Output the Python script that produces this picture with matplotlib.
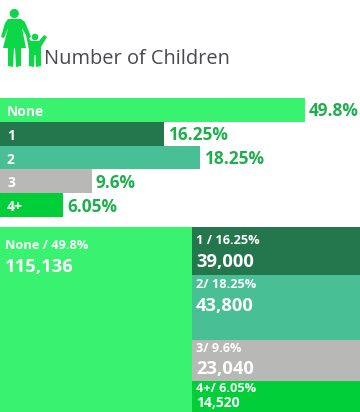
import matplotlib
matplotlib.use("Agg")
import matplotlib.pyplot as plt
from matplotlib.patches import Circle, Polygon

categories = ["None", "1", "2", "3", "4+"]
percent_labels = ["49.8%", "16.25%", "18.25%", "9.6%", "6.05%"]
bar_lengths = [305, 164, 200, 92, 63]  # read off the picture, not proportional to the percents
tile_titles = ["None / 49.8%", "1 / 16.25%", "2/ 18.25%", "3/ 9.6%", "4+/ 6.05%"]
tile_values = ["115,136", "39,000", "43,800", "23,040", "14,520"]
tile_heights = [48, 65, 41, 31]  # right column
colors = ["#39F270", "#24774D", "#48BF95", "#B8B8B6", "#00CF3A"]

plt.rcParams["font.family"] = ["Open Sans", "DejaVu Sans"]

fig = plt.figure(figsize=(3.6, 4.12), dpi=100)
ax = fig.add_axes([0, 0, 1, 1])
ax.set_xlim(0, 360)
ax.set_ylim(412, 0)
ax.axis("off")

# icon
green = "#0CD746"
ax.add_patch(Circle((14.3, 13.5), 4.6, color=green, lw=0))
ax.add_patch(Polygon([(8, 19), (21, 19), (25, 22), (31, 37), (28, 39), (22, 28), (26, 48),
                      (21, 48), (21, 66), (16, 67), (15, 48), (14, 48), (13, 67), (8, 66),
                      (8, 48), (3, 48), (8, 28), (4, 38), (1, 37), (5, 23)], color=green, lw=0))
ax.add_patch(Circle((35, 37), 3.3, color=green, lw=0))
ax.add_patch(Polygon([(26, 35), (31, 41), (39, 41), (44, 35), (47, 37), (41, 47), (41, 66),
                      (36, 67), (35.5, 55), (34.5, 55), (34, 67), (29, 66), (29, 50)],
                     color=green, lw=0))

ax.text(44.5, 58.5, "Number of Children", fontsize=14.4, color="#4A4750", va="center", ha="left")

# bars
y_top = 98
bar_h = 23.8
for i, cat in enumerate(categories):
    y = y_top + i * bar_h
    ax.barh(y, bar_lengths[i], height=bar_h, align="edge", color=colors[i], lw=0)
    ax.text(7, y + bar_h / 2 + 2, cat, color="white", fontsize=10, fontweight="bold", va="center")
    ax.text(bar_lengths[i] + 4, y + bar_h / 2 + 1.5, percent_labels[i], color="#1DAF4D",
            fontsize=12.4, fontweight="bold", va="center")

# tiles
tile_top = 227
split = 192
ax.bar(0, 412 - tile_top, width=split, bottom=tile_top, align="edge", color=colors[0], lw=0)
ax.text(5, 245, tile_titles[0], color="white", fontsize=9.2, fontweight="bold", va="center")
ax.text(5, 266.5, tile_values[0], color="white", fontsize=13.2, fontweight="bold", va="center")

y = tile_top
title_off = [13, 9, 8, 8]
value_off = [35, 31, 29, 22]
value_size = [13.2, 13.2, 13.2, 10]
for i in range(4):
    ax.bar(split, tile_heights[i], width=360 - split, bottom=y, align="edge", color=colors[i + 1], lw=0)
    ax.text(196, y + title_off[i], tile_titles[i + 1], color="white", fontsize=9.2,
            fontweight="bold", va="center")
    ax.text(196, y + value_off[i], tile_values[i + 1], color="white", fontsize=value_size[i],
            fontweight="bold", va="center")
    y += tile_heights[i]

fig.savefig("out.png", dpi=100)
